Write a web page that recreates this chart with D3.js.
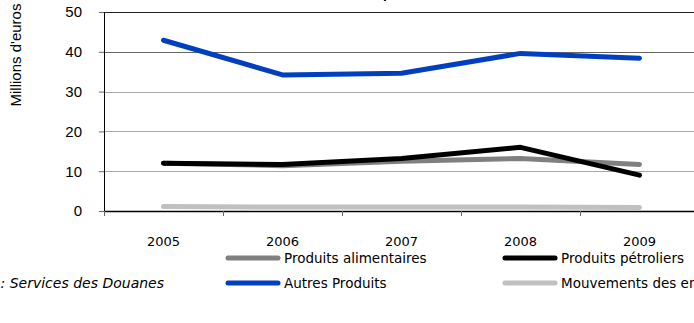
<!DOCTYPE html>
<html>
<head>
<meta charset="utf-8">
<script src="https://cdn.jsdelivr.net/npm/d3@7"></script>
<style>
  body { margin: 0; background: #fff; overflow: hidden; }
  svg { display: block; }
</style>
</head>
<body>
<script>
var years = ['2005', '2006', '2007', '2008', '2009'];
var alimentaires = [12.0, 11.4, 12.5, 13.2, 11.7];
var petroliers = [12.0, 11.7, 13.2, 16.0, 9.0];
var autres = [42.9, 34.2, 34.6, 39.6, 38.4];
var mouvements = [1.1, 1.0, 1.0, 1.0, 0.9];
var yTicks = [0, 10, 20, 30, 40, 50];

var seriesNames = ['Produits alimentaires', 'Produits pétroliers', 'Autres Produits', 'Mouvements des entrepôts'];
var seriesColors = ['#808080', '#000000', '#0040c0', '#c0c0c0'];
var seriesData = [alimentaires, petroliers, autres, mouvements];

var width = 694, height = 323;
var margin = {left: 104, top: 12};
var plotW = 595, plotH = 199;
var tahoma = 'DejaVu Sans, Verdana, sans-serif';
var arial = 'Liberation Sans, Arial, sans-serif';

var svg = d3.select('body').append('svg').attr('width', width).attr('height', height);

// titre (coupé en haut)
var title = svg.append('text')
  .attr('y', -2)
  .attr('font-family', arial)
  .attr('font-weight', 'bold')
  .attr('font-size', 14)
  .text('Evolution des importations');
var pIdx = title.text().indexOf('p');
var pPos = title.node().getStartPositionOfChar(pIdx).x;
title.attr('x', 383 - pPos);

var g = svg.append('g').attr('transform', `translate(${margin.left},${margin.top})`);

var x = d3.scaleBand().domain(years).range([0, plotW]);
var y = d3.scaleLinear().domain([0, 50]).range([plotH, 0]);

// grille
g.selectAll('line.grid')
  .data(yTicks.filter(d => d > 0))
  .enter().append('line')
    .attr('class', 'grid')
    .attr('x1', 0).attr('x2', plotW)
    .attr('y1', d => Math.round(y(d)) + 0.5)
    .attr('y2', d => Math.round(y(d)) + 0.5)
    .attr('stroke', d => d === 50 ? '#222' : (d === 40 ? '#666' : '#a8a8a8'))
    .attr('stroke-width', 1);

// axe y
var yAxis = g.append('g')
  .call(d3.axisLeft(y).tickValues(yTicks).tickSize(5).tickPadding(17));
yAxis.select('.domain').attr('stroke', '#000').attr('d', `M0.5,0V${plotH}`);
yAxis.selectAll('.tick line').attr('stroke', '#666');
yAxis.selectAll('text')
  .attr('font-family', arial)
  .attr('font-size', 15)
  .attr('fill', '#000');

// axe x
var xAxis = g.append('g').attr('transform', `translate(0,${plotH})`)
  .call(d3.axisBottom(x).tickSize(0).tickPadding(26));
xAxis.select('.domain').attr('stroke', '#000').attr('stroke-width', 1.3).attr('d', `M0,0.5H${plotW}`);
xAxis.selectAll('text')
  .attr('font-family', tahoma)
  .style('font-weight', '400')
  .attr('font-size', 13)
  .attr('fill', '#000');
xAxis.selectAll('line.cat')
  .data(years.concat(['end']))
  .enter().append('line')
    .attr('class', 'cat')
    .attr('x1', (d, i) => Math.round(i * x.step()) + 0.5)
    .attr('x2', (d, i) => Math.round(i * x.step()) + 0.5)
    .attr('y1', 0).attr('y2', 5)
    .attr('stroke', '#666');

// courbes
var line = d3.line()
  .x((d, i) => x(years[i]) + x.bandwidth() / 2)
  .y(d => y(d));

var order = [3, 0, 1, 2];
g.selectAll('path.serie')
  .data(order)
  .enter().append('path')
    .attr('class', 'serie')
    .attr('d', i => line(seriesData[i]))
    .attr('fill', 'none')
    .attr('stroke', i => seriesColors[i])
    .attr('stroke-width', 5)
    .attr('stroke-linecap', 'round')
    .attr('stroke-linejoin', 'round');

// légende
var legendPos = [[226, 258], [503, 258], [226, 283], [503, 283]];
var legend = svg.selectAll('g.legend')
  .data(seriesNames)
  .enter().append('g')
    .attr('class', 'legend')
    .attr('transform', (d, i) => `translate(${legendPos[i][0]},${legendPos[i][1]})`);
legend.append('line')
  .attr('x1', 2).attr('x2', 52)
  .attr('y1', 0).attr('y2', 0)
  .attr('stroke', (d, i) => seriesColors[i])
  .attr('stroke-width', 5)
  .attr('stroke-linecap', 'round');
legend.append('text')
  .attr('x', 58).attr('y', 5)
  .attr('font-family', tahoma)
  .attr('font-size', 13.5)
  .text(d => d);

// source (coupée à gauche)
svg.append('text')
  .attr('x', 164).attr('y', 288)
  .attr('text-anchor', 'end')
  .attr('font-family', tahoma)
  .attr('font-style', 'italic')
  .attr('font-size', 14)
  .text('Source : Services des Douanes');

// titre axe y
svg.append('text')
  .attr('transform', 'translate(21,55) rotate(-90)')
  .attr('text-anchor', 'middle')
  .attr('font-family', arial)
  .attr('font-size', 15)
  .text("Millions d'euros");
</script>
</body>
</html>
